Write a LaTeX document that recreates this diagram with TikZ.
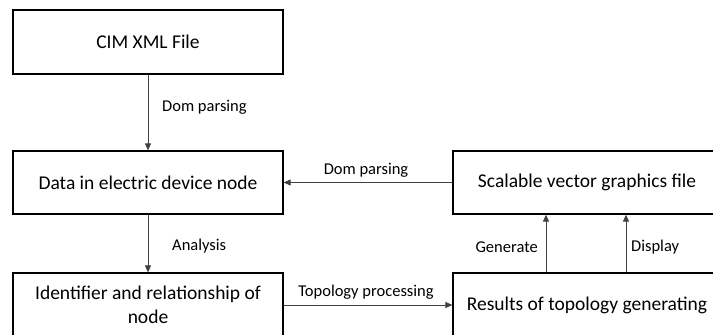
\documentclass[tikz,border=0pt]{standalone}
\usepackage{fontspec}
\setmainfont{Carlito}
\usetikzlibrary{arrows.meta}
\begin{document}
\begin{tikzpicture}[x=1pt,y=-1pt,
  box/.style={draw=black,line width=1.2pt,minimum width=270pt,minimum height=64pt,inner sep=0pt,align=center,font=\fontsize{19.5}{24.5}\selectfont},
  arr/.style={draw=black!75,line width=0.9pt,-{Triangle[length=7pt,width=6pt]}},
  lbl/.style={inner sep=0pt,font=\fontsize{16.5}{20}\selectfont}]
\useasboundingbox (0,0) rectangle (713,335);
\clip (0,0) rectangle (713,335);
\node[box] (b1) at (148,42) {CIM XML File};
\node[box,minimum height=63pt] (b2) at (148,182.5) {Data in electric device node};
\node[box] (b3) at (148,305) {Identifier and relationship of\\node};
\node[box,minimum width=268pt,minimum height=63pt] (b4) at (587,182.5) {Scalable vector graphics file};
\node[box,minimum width=268pt] (b5) at (587,305) {Results of topology generating};
\draw[arr] (b1) -- (b2);
\draw[arr] (b2) -- (b3);
\draw[arr] (b4) -- (b2);
\draw[arr] (b3) -- (b5);
\draw[arr] ([xshift=-41pt]b5.north) -- ([xshift=-41pt]b4.south);
\draw[arr] ([xshift=39pt]b5.north) -- ([xshift=39pt]b4.south);
\node[lbl,anchor=west] (l1) at (162,107) {Dom parsing};
\node[lbl,anchor=west] (l2) at (172,246) {Analysis};
\node[lbl] (l3) at (366,170.5) {Dom parsing};
\node[lbl] (l4) at (366,292) {Topology processing};
\node[lbl,anchor=east] (l5) at (538,247) {Generate};
\node[lbl,anchor=west] (l6) at (631,247) {Display};
\end{tikzpicture}
\end{document}
